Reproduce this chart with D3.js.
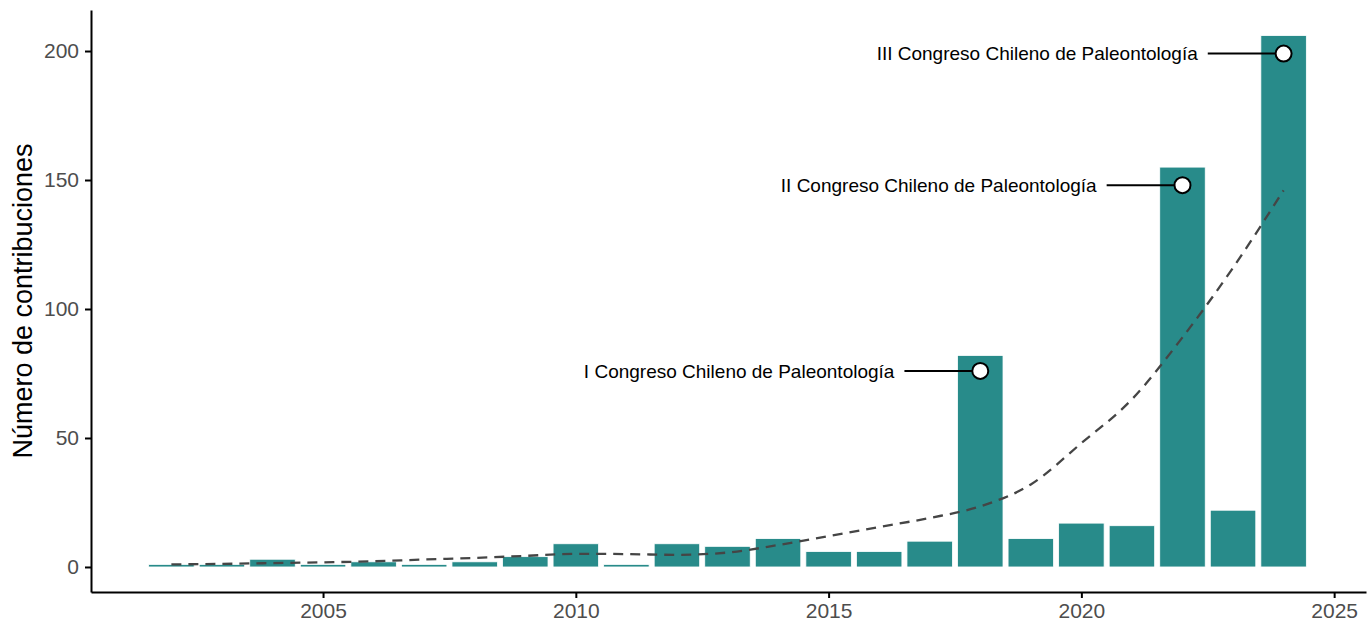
<!DOCTYPE html>
<html>
<head>
<meta charset="utf-8">
<script src="https://cdn.jsdelivr.net/npm/d3@7"></script>
<style>
  html, body { margin: 0; padding: 0; background: #ffffff; }
  svg { display: block; font-family: "Liberation Sans", Arial, sans-serif; }
</style>
</head>
<body>
<svg id="chart" width="1371" height="629"></svg>
<script>
// Annual number of contributions
const years = [2002, 2003, 2004, 2005, 2006, 2007, 2008, 2009, 2010, 2011, 2012,
               2013, 2014, 2015, 2016, 2017, 2018, 2019, 2020, 2021, 2022, 2023, 2024];
const counts = [1, 1, 3, 1, 2, 1, 2, 4, 9, 1, 9,
                8, 11, 6, 6, 10, 82, 11, 17, 16, 155, 22, 206];

// Smoothed trend (dashed line)
const trend = [1.0, 1.2, 1.5, 1.8, 2.2, 2.9, 3.5, 4.3, 5.1, 5.0, 4.7,
               5.6, 8.5, 12, 15.5, 19, 23.5, 32, 48, 65, 89, 116, 146];

// Congress annotations
const congressYears = [2018, 2022, 2024];
const congressPoints = [76, 148, 199];
const congressLabels = ["I Congreso Chileno de Paleontología",
                        "II Congreso Chileno de Paleontología",
                        "III Congreso Chileno de Paleontología"];

const xTicks = [2005, 2010, 2015, 2020, 2025];
const yTicks = [0, 50, 100, 150, 200];

const svg = d3.select("#chart");
const plotLeft = 91, plotRight = 1366, plotTop = 10, plotBottom = 592;

const x = d3.scaleLinear().domain([2000.41, 2025.63]).range([plotLeft, plotRight]);
const y = d3.scaleLinear().domain([-9.7, 215.9]).range([plotBottom, plotTop]);
const barW = x(2000.41 + 0.9) - x(2000.41);

// Bars
svg.append("g").selectAll("rect")
  .data(years.map((yr, i) => ({ yr, v: counts[i] })))
  .join("rect")
  .attr("x", d => x(d.yr) - barW / 2)
  .attr("width", barW)
  .attr("y", d => y(d.v))
  .attr("height", d => y(0) - y(d.v))
  .attr("fill", "#288b8a")
  .attr("stroke", "#ffffff")
  .attr("stroke-width", 0.8);

// Trend line
const line = d3.line()
  .x((d, i) => x(years[i]))
  .y(d => y(d))
  .curve(d3.curveMonotoneX);
svg.append("path")
  .datum(trend)
  .attr("d", line)
  .attr("fill", "none")
  .attr("stroke", "#454545")
  .attr("stroke-width", 2.3)
  .attr("stroke-dasharray", "10,7");

// Annotations
const ann = svg.append("g");
congressYears.forEach((yr, i) => {
  const cx = x(yr), cy = y(congressPoints[i]);
  const x0 = x(yr - 1.5);
  ann.append("line")
    .attr("x1", x0).attr("x2", cx)
    .attr("y1", cy).attr("y2", cy)
    .attr("stroke", "#000").attr("stroke-width", 2);
  ann.append("circle")
    .attr("cx", cx).attr("cy", cy).attr("r", 8)
    .attr("fill", "#fff").attr("stroke", "#000").attr("stroke-width", 2);
  ann.append("text")
    .attr("x", x0 - 10).attr("y", cy)
    .attr("dy", "0.35em")
    .attr("text-anchor", "end")
    .attr("font-size", 19)
    .attr("fill", "#000")
    .text(congressLabels[i]);
});

// Axes
const xAxis = d3.axisBottom(x).tickValues(xTicks).tickFormat(d3.format("d"))
  .tickSizeInner(6).tickSizeOuter(0).tickPadding(5);
const gx = svg.append("g").attr("transform", `translate(0,${plotBottom})`).call(xAxis);
const yAxis = d3.axisLeft(y).tickValues(yTicks)
  .tickSizeInner(6).tickSizeOuter(0).tickPadding(6);
const gy = svg.append("g").attr("transform", `translate(${plotLeft},0)`).call(yAxis);

[gx, gy].forEach(g => {
  g.select(".domain").attr("stroke", "#000").attr("stroke-width", 2);
  g.selectAll(".tick line").attr("stroke", "#000").attr("stroke-width", 2);
  g.selectAll(".tick text").attr("fill", "#4d4d4d").attr("font-size", 21)
    .attr("font-family", "Liberation Sans, Arial, sans-serif");
});

// Y-axis title
svg.append("text")
  .attr("transform", `translate(32,${(plotTop + plotBottom) / 2}) rotate(-90)`)
  .attr("text-anchor", "middle")
  .attr("font-size", 27)
  .attr("fill", "#000")
  .text("Número de contribuciones");
</script>
</body>
</html>
